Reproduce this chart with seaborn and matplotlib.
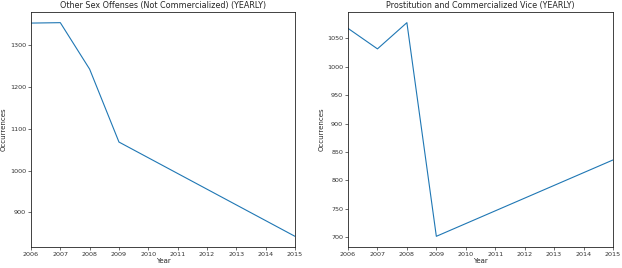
import matplotlib
matplotlib.use("Agg")
import matplotlib.pyplot as plt
import seaborn as sns
import pandas as pd

years_left = [2006, 2007, 2008, 2009, 2015]
other_sex_offenses = [1352, 1353, 1242, 1068, 843]
years_right = [2006, 2007, 2008, 2009, 2015]
prostitution = [1067, 1031, 1077, 702, 836]
xticks = list(range(2006, 2016))
titles = ["Other Sex Offenses (Not Commercialized) (YEARLY)",
          "Prostitution and Commercialized Vice (YEARLY)"]

sns.set_style("ticks")
plt.rcParams['font.family'] = ['DejaVu Sans']

fig = plt.figure(figsize=(6.22, 2.68), dpi=100)
ax1 = fig.add_axes([0.0498, 0.0784, 0.4244, 0.8769])
ax2 = fig.add_axes([0.5595, 0.0784, 0.426, 0.8769])

for ax, yrs, vals, title in [(ax1, years_left, other_sex_offenses, titles[0]),
                             (ax2, years_right, prostitution, titles[1])]:
    df = pd.DataFrame({"Year": yrs, "Occurrences": vals})
    sns.lineplot(data=df, x="Year", y="Occurrences", ax=ax, color="#1f77b4", linewidth=0.8)
    ax.set_xlim(2006, 2015)
    ax.set_xticks(xticks)
    ax.set_xticklabels([str(x) for x in xticks])
    ax.tick_params(labelsize=4.6, length=2, width=0.5, pad=1.5, colors="#333333")
    ax.set_xlabel("Year", fontsize=5.0, labelpad=1)
    ax.set_ylabel("Occurrences", fontsize=5.0, labelpad=2)
    ax.set_title(title, fontsize=5.8, pad=3)
    for s in ax.spines.values():
        s.set_visible(True)
        s.set_linewidth(0.6)
        s.set_color("#222222")

ax1.set_yticks([900, 1000, 1100, 1200, 1300])
ax2.set_yticks([700, 750, 800, 850, 900, 950, 1000, 1050])

fig.savefig("out.png", dpi=100)
